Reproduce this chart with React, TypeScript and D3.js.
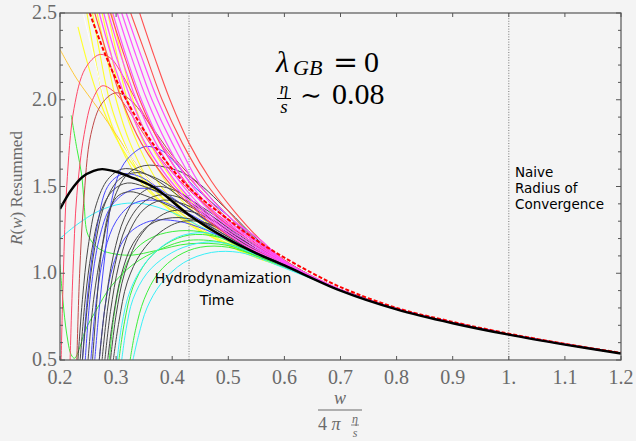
import React from "react";
import * as d3 from "d3";

type Pt = [number, number];

// x tick labels and y tick labels
const xTickValues = [0.2, 0.3, 0.4, 0.5, 0.6, 0.7, 0.8, 0.9, 1.0, 1.1, 1.2];
const xTickLabels = ["0.2", "0.3", "0.4", "0.5", "0.6", "0.7", "0.8", "0.9", "1.", "1.1", "1.2"];
const yMajorValues = [0.5, 1.0, 1.5, 2.0, 2.5];
const yMajorLabels = ["0.5", "1.0", "1.5", "2.0", "2.5"];
const yMinorValues = [0.6, 0.7, 0.8, 0.9, 1.1, 1.2, 1.3, 1.4, 1.6, 1.7, 1.8, 1.9, 2.1, 2.2, 2.3, 2.4];
const markerLines = [0.43, 1.0];

// shared large-w tail
const tail: Pt[] = [[0.7, 0.905], [0.8, 0.795], [0.9, 0.715], [1.0, 0.648], [1.1, 0.59], [1.2, 0.539]];

const yellowCurves: Pt[][] = [
  [[0.232, 2.42], [0.25, 2.2], [0.27, 2.0], [0.3, 1.78], [0.34, 1.58], [0.38, 1.44], [0.43, 1.29], [0.5, 1.16], [0.55, 1.09], [0.6, 1.035]],
  [[0.248, 2.5], [0.262, 2.25], [0.278, 2.0], [0.305, 1.75], [0.345, 1.52], [0.39, 1.38], [0.44, 1.26], [0.5, 1.165], [0.55, 1.095], [0.6, 1.035]],
  [[0.258, 2.5], [0.272, 2.25], [0.288, 2.0], [0.315, 1.75], [0.355, 1.5], [0.4, 1.36], [0.45, 1.25], [0.5, 1.16], [0.55, 1.09], [0.6, 1.035]],
  [[0.266, 2.5], [0.283, 2.25], [0.3, 2.0], [0.325, 1.75], [0.365, 1.5], [0.41, 1.36], [0.46, 1.24], [0.5, 1.17], [0.55, 1.1], [0.6, 1.04]],
  [[0.275, 2.5], [0.292, 2.25], [0.31, 2.0], [0.338, 1.75], [0.38, 1.5], [0.43, 1.34], [0.48, 1.22], [0.55, 1.1], [0.6, 1.04]],
  [[0.285, 2.5], [0.302, 2.25], [0.32, 2.0], [0.35, 1.75], [0.395, 1.5], [0.44, 1.35], [0.49, 1.23], [0.55, 1.11], [0.6, 1.04]],
  [[0.292, 2.5], [0.31, 2.25], [0.33, 2.0], [0.36, 1.75], [0.405, 1.52], [0.45, 1.36], [0.5, 1.24], [0.55, 1.12], [0.6, 1.045]],
];
const goldCurves: Pt[][] = [
  [[0.2, 2.29], [0.23, 2.12], [0.27, 1.94], [0.3, 1.8], [0.34, 1.61], [0.38, 1.47], [0.43, 1.33], [0.5, 1.19], [0.55, 1.11], [0.6, 1.045]],
];
const whiteCurves: Pt[][] = [
  [[0.241, 2.5], [0.26, 2.25], [0.28, 2.0], [0.3, 1.84], [0.33, 1.65], [0.37, 1.5], [0.43, 1.34], [0.5, 1.2], [0.55, 1.115], [0.6, 1.045]],
];
const greenCurves: Pt[][] = [
  [[0.22, 1.91], [0.23, 1.72], [0.239, 1.56], [0.243, 1.4], [0.25, 1.22], [0.27, 1.14], [0.3, 1.11], [0.33, 1.105], [0.37, 1.13], [0.43, 1.17], [0.5, 1.16], [0.55, 1.1], [0.6, 1.04]],
  [[0.2, 1.05], [0.205, 0.85], [0.212, 0.65], [0.22, 0.53], [0.226, 0.51], [0.235, 0.57], [0.245, 0.67], [0.265, 0.79], [0.29, 0.92], [0.33, 1.05], [0.38, 1.14], [0.43, 1.19], [0.5, 1.17], [0.55, 1.1], [0.6, 1.04]],
  [[0.305, 0.5], [0.315, 0.72], [0.33, 0.92], [0.355, 1.07], [0.39, 1.17], [0.43, 1.22], [0.48, 1.21], [0.54, 1.12], [0.6, 1.04]],
  [[0.325, 0.5], [0.335, 0.68], [0.35, 0.85], [0.375, 1.0], [0.41, 1.1], [0.45, 1.15], [0.5, 1.15], [0.55, 1.1], [0.6, 1.035]],
  [[0.288, 0.5], [0.296, 0.75], [0.31, 0.98], [0.33, 1.12], [0.36, 1.2], [0.4, 1.24], [0.45, 1.24], [0.5, 1.19], [0.55, 1.11], [0.6, 1.04]],
];
const cyanCurves: Pt[][] = [
  [[0.2, 1.2], [0.23, 1.28], [0.27, 1.36], [0.31, 1.4], [0.35, 1.4], [0.4, 1.35], [0.45, 1.27], [0.5, 1.19], [0.55, 1.11], [0.6, 1.045]],
  [[0.302, 0.5], [0.31, 0.7], [0.325, 0.9], [0.35, 1.05], [0.38, 1.15], [0.42, 1.22], [0.47, 1.23], [0.52, 1.17], [0.56, 1.1], [0.6, 1.045]],
  [[0.31, 0.5], [0.318, 0.68], [0.33, 0.85], [0.355, 1.0], [0.39, 1.1], [0.43, 1.16], [0.48, 1.18], [0.54, 1.12], [0.6, 1.04]],
  [[0.33, 0.5], [0.34, 0.64], [0.355, 0.8], [0.38, 0.94], [0.42, 1.06], [0.47, 1.12], [0.52, 1.12], [0.56, 1.08], [0.6, 1.03]],
];
const grayCurves: Pt[][] = [
  [[0.232, 0.5], [0.24, 0.85], [0.25, 1.15], [0.265, 1.4], [0.285, 1.54], [0.31, 1.6], [0.34, 1.59], [0.38, 1.52], [0.43, 1.4], [0.5, 1.25], [0.55, 1.14], [0.6, 1.055]],
  [[0.236, 0.5], [0.245, 0.85], [0.256, 1.12], [0.272, 1.35], [0.295, 1.48], [0.32, 1.52], [0.35, 1.5], [0.4, 1.43], [0.45, 1.33], [0.5, 1.23], [0.55, 1.13], [0.6, 1.05]],
  [[0.24, 0.5], [0.25, 0.85], [0.262, 1.15], [0.28, 1.4], [0.305, 1.54], [0.335, 1.58], [0.37, 1.55], [0.43, 1.43], [0.5, 1.28], [0.55, 1.16], [0.6, 1.06]],
  [[0.25, 0.5], [0.26, 0.85], [0.275, 1.15], [0.295, 1.42], [0.32, 1.57], [0.35, 1.62], [0.39, 1.61], [0.43, 1.56], [0.5, 1.36], [0.55, 1.2], [0.6, 1.075]],
  [[0.258, 0.5], [0.266, 0.85], [0.275, 1.15], [0.29, 1.38], [0.305, 1.45], [0.325, 1.47], [0.35, 1.45], [0.4, 1.38], [0.45, 1.3], [0.5, 1.21], [0.55, 1.12], [0.6, 1.045]],
  [[0.27, 0.5], [0.28, 0.8], [0.295, 1.1], [0.315, 1.32], [0.34, 1.45], [0.37, 1.5], [0.41, 1.47], [0.45, 1.38], [0.5, 1.26], [0.55, 1.14], [0.6, 1.05]],
  [[0.275, 0.5], [0.285, 0.8], [0.298, 1.05], [0.318, 1.27], [0.345, 1.4], [0.375, 1.45], [0.41, 1.44], [0.46, 1.35], [0.52, 1.22], [0.56, 1.13], [0.6, 1.055]],
  [[0.28, 0.5], [0.29, 0.78], [0.305, 1.05], [0.325, 1.25], [0.35, 1.37], [0.38, 1.42], [0.42, 1.4], [0.47, 1.31], [0.52, 1.2], [0.56, 1.12], [0.6, 1.05]],
  [[0.285, 0.5], [0.295, 0.75], [0.31, 1.0], [0.33, 1.17], [0.36, 1.28], [0.4, 1.32], [0.45, 1.3], [0.5, 1.23], [0.55, 1.12], [0.6, 1.045]],
  [[0.29, 0.5], [0.3, 0.76], [0.315, 1.0], [0.34, 1.2], [0.37, 1.31], [0.4, 1.36], [0.44, 1.35], [0.5, 1.25], [0.55, 1.13], [0.6, 1.05]],
  [[0.295, 0.5], [0.305, 0.72], [0.32, 0.95], [0.345, 1.12], [0.38, 1.24], [0.42, 1.3], [0.47, 1.28], [0.53, 1.17], [0.6, 1.045]],
];
const blueCurves: Pt[][] = [
  [[0.262, 0.5], [0.27, 0.8], [0.28, 1.1], [0.292, 1.42], [0.31, 1.61], [0.33, 1.69], [0.352, 1.73], [0.38, 1.71], [0.41, 1.62], [0.43, 1.53], [0.47, 1.41], [0.5, 1.33], [0.55, 1.19], [0.6, 1.07]],
  [[0.245, 0.5], [0.255, 0.9], [0.27, 1.2], [0.29, 1.38], [0.32, 1.47], [0.35, 1.49], [0.38, 1.46], [0.43, 1.37], [0.5, 1.22], [0.55, 1.12], [0.6, 1.045]],
  [[0.255, 0.5], [0.265, 0.85], [0.28, 1.13], [0.3, 1.3], [0.33, 1.4], [0.37, 1.42], [0.42, 1.36], [0.5, 1.21], [0.55, 1.12], [0.6, 1.045]],
  [[0.27, 0.5], [0.28, 0.8], [0.295, 1.05], [0.32, 1.22], [0.36, 1.3], [0.41, 1.3], [0.46, 1.25], [0.52, 1.16], [0.6, 1.04]],
  [[0.24, 0.5], [0.25, 0.9], [0.265, 1.25], [0.285, 1.5], [0.31, 1.57], [0.34, 1.56], [0.38, 1.48], [0.43, 1.37], [0.5, 1.22], [0.55, 1.12], [0.6, 1.045]],
];
const pinkArcCurves: Pt[][] = [
  [[0.202, 0.5], [0.206, 1.0], [0.212, 1.5], [0.225, 1.95], [0.245, 2.18], [0.27, 2.26], [0.29, 2.24], [0.31, 2.15], [0.34, 1.97], [0.38, 1.75], [0.43, 1.55], [0.5, 1.31], [0.55, 1.17], [0.6, 1.065]],
  [[0.218, 0.5], [0.223, 1.0], [0.23, 1.45], [0.243, 1.8], [0.258, 2.0], [0.275, 2.08], [0.295, 2.05], [0.32, 1.95], [0.36, 1.75], [0.4, 1.58], [0.45, 1.42], [0.5, 1.29], [0.55, 1.16], [0.6, 1.06]],
];
const brownArcCurves: Pt[][] = [
  [[0.23, 0.5], [0.235, 1.0], [0.242, 1.4], [0.255, 1.8], [0.275, 1.98], [0.3, 2.04], [0.325, 2.0], [0.36, 1.86], [0.4, 1.68], [0.45, 1.5], [0.5, 1.33], [0.55, 1.18], [0.6, 1.065]],
];
const salmonCurves: Pt[][] = [
  [[0.262, 2.5], [0.285, 2.25], [0.31, 2.0], [0.345, 1.75], [0.4, 1.5], [0.465, 1.3], [0.53, 1.16], [0.6, 1.06]],
  [[0.29, 2.5], [0.315, 2.25], [0.342, 2.0], [0.378, 1.75], [0.43, 1.5], [0.49, 1.3], [0.55, 1.165], [0.6, 1.065]],
  [[0.326, 2.5], [0.354, 2.25], [0.382, 2.0], [0.418, 1.75], [0.46, 1.52], [0.505, 1.34], [0.55, 1.19], [0.6, 1.07]],
  [[0.342, 2.5], [0.368, 2.25], [0.396, 2.0], [0.43, 1.75], [0.47, 1.53], [0.51, 1.36], [0.555, 1.2], [0.6, 1.075]],
];
const magentaCurves: Pt[][] = [
  [[0.27, 2.5], [0.292, 2.25], [0.318, 2.0], [0.352, 1.75], [0.405, 1.5], [0.47, 1.3], [0.53, 1.16], [0.6, 1.055]],
  [[0.278, 2.5], [0.3, 2.25], [0.327, 2.0], [0.362, 1.75], [0.413, 1.5], [0.475, 1.3], [0.535, 1.165], [0.6, 1.06]],
  [[0.286, 2.5], [0.309, 2.25], [0.336, 2.0], [0.371, 1.75], [0.42, 1.5], [0.48, 1.3], [0.54, 1.17], [0.6, 1.06]],
  [[0.294, 2.5], [0.318, 2.25], [0.345, 2.0], [0.38, 1.75], [0.428, 1.5], [0.487, 1.3], [0.545, 1.175], [0.6, 1.065]],
  [[0.302, 2.5], [0.327, 2.25], [0.355, 2.0], [0.39, 1.75], [0.436, 1.5], [0.493, 1.3], [0.55, 1.18], [0.6, 1.065]],
  [[0.31, 2.5], [0.336, 2.25], [0.364, 2.0], [0.4, 1.75], [0.444, 1.5], [0.5, 1.3], [0.555, 1.18], [0.6, 1.07]],
  [[0.318, 2.5], [0.345, 2.25], [0.374, 2.0], [0.41, 1.75], [0.452, 1.5], [0.507, 1.31], [0.56, 1.185], [0.6, 1.07]],
];
const redDashed: Pt[] = [
  [0.253, 2.5], [0.282, 2.25], [0.318, 2.0], [0.365, 1.75], [0.428, 1.5], [0.5, 1.31], [0.55, 1.19], [0.6, 1.09],
  [0.65, 1.0], [0.7, 0.92], [0.8, 0.8], [0.9, 0.72], [1.0, 0.652], [1.1, 0.593], [1.2, 0.541],
];
const blackCurve: Pt[] = [
  [0.2, 1.37], [0.22, 1.48], [0.24, 1.555], [0.26, 1.59], [0.275, 1.6], [0.3, 1.585], [0.325, 1.556], [0.37, 1.49],
  [0.43, 1.336], [0.5, 1.195], [0.55, 1.115], [0.6, 1.045], [0.7, 0.9], [0.8, 0.792], [0.9, 0.712], [1.0, 0.646],
  [1.1, 0.589], [1.2, 0.537],
];

const families: { curves: Pt[][]; color: string; width: number }[] = [
  { curves: yellowCurves, color: "#ffff28", width: 1.1 },
  { curves: goldCurves, color: "#ffc838", width: 1 },
  { curves: whiteCurves, color: "#ffffff", width: 1 },
  { curves: greenCurves, color: "#3cf03c", width: 1 },
  { curves: cyanCurves, color: "#38f0f8", width: 1 },
  { curves: blueCurves, color: "#4848ff", width: 1 },
  { curves: grayCurves, color: "#484848", width: 1 },
  { curves: brownArcCurves, color: "#c04848", width: 1 },
  { curves: pinkArcCurves, color: "#ff4868", width: 1 },
  { curves: salmonCurves, color: "#ff5050", width: 1.1 },
  { curves: magentaCurves, color: "#ff50ff", width: 1.2 },
];

const W = 636;
const H = 441;
const L = 60, R = 621, T = 13, B = 360;

function withTail(pts: Pt[]): Pt[] {
  const last = pts[pts.length - 1][0];
  return pts.concat(tail.filter((p) => p[0] > last + 0.02));
}

export default function App() {
  const x = d3.scaleLinear().domain([0.2, 1.2]).range([L, R]);
  const y = d3.scaleLinear().domain([0.5, 2.5]).range([B, T]);
  const line = d3
    .line<Pt>()
    .x((d) => x(d[0]))
    .y((d) => y(d[1]))
    .curve(d3.curveCatmullRom.alpha(0.5));

  const tickColor = "#555";
  const labelColor = "#6a6a6a";
  const serif = "Liberation Serif";
  const mathSym = "DejaVu Serif";
  const sans = "DejaVu Sans";

  return (
    <svg width={W} height={H} style={{ position: "absolute", left: 0, top: 0, background: "#f4f4f4" }}>
      <rect x={0} y={0} width={W} height={H} fill="#f4f4f4" />
      <defs>
        <clipPath id="plotclip">
          <rect x={L} y={T} width={R - L} height={B - T} />
        </clipPath>
      </defs>

      {markerLines.map((v, i) => (
        <line key={"m" + i} x1={x(v)} x2={x(v)} y1={T} y2={B} stroke="#777" strokeWidth={1} strokeDasharray="1,1.6" />
      ))}

      <g clipPath="url(#plotclip)" fill="none">
        {families.map((f, fi) =>
          f.curves.map((c, ci) => (
            <path key={fi + "-" + ci} d={line(withTail(c)) || ""} stroke={f.color} strokeWidth={f.width} />
          ))
        )}
        <path d={line(redDashed) || ""} stroke="#ff0000" strokeWidth={2} strokeDasharray="4,2" />
        <path d={line(blackCurve) || ""} stroke="#000" strokeWidth={2.4} />
      </g>

      <rect x={L} y={T} width={R - L} height={B - T} fill="none" stroke={tickColor} strokeWidth={1.2} />

      {xTickValues.map((v, i) => (
        <g key={"xt" + i}>
          <line x1={x(v)} x2={x(v)} y1={B} y2={B - 4} stroke={tickColor} strokeWidth={1} />
          <line x1={x(v)} x2={x(v)} y1={T} y2={T + 4} stroke={tickColor} strokeWidth={1} />
          <text x={x(v)} y={384} textAnchor="middle" fontFamily={serif} fontSize={20} fill={labelColor}>
            {xTickLabels[i]}
          </text>
        </g>
      ))}
      {yMajorValues.map((v, i) => (
        <g key={"ym" + i}>
          <line x1={L} x2={L + 5} y1={y(v)} y2={y(v)} stroke={tickColor} strokeWidth={1} />
          <line x1={R} x2={R - 5} y1={y(v)} y2={y(v)} stroke={tickColor} strokeWidth={1} />
          <text x={57} y={y(v) + 6} textAnchor="end" fontFamily={serif} fontSize={20} fill={labelColor}>
            {yMajorLabels[i]}
          </text>
        </g>
      ))}
      {yMinorValues.map((v, i) => (
        <g key={"yn" + i}>
          <line x1={L} x2={L + 3} y1={y(v)} y2={y(v)} stroke={tickColor} strokeWidth={1} />
          <line x1={R} x2={R - 3} y1={y(v)} y2={y(v)} stroke={tickColor} strokeWidth={1} />
        </g>
      ))}

      <text transform="translate(22,188) rotate(-90)" textAnchor="middle" fontFamily={serif} fontSize={17} fill={labelColor}>
        <tspan fontStyle="italic">R</tspan>(<tspan fontStyle="italic">w</tspan>) Resummed
      </text>

      <text x={340} y={404} textAnchor="middle" fontFamily={serif} fontSize={18} fontStyle="italic" fill={labelColor}>
        w
      </text>
      <line x1={318} x2={362} y1={410} y2={410} stroke={labelColor} strokeWidth={1} />
      <text x={318} y={430} fontFamily={serif} fontSize={18} fill={labelColor}>
        4 <tspan fontStyle="italic">π</tspan>
      </text>
      <text x={355} y={423} textAnchor="middle" fontFamily={serif} fontSize={12} fontStyle="italic" fill={labelColor}>
        η
      </text>
      <line x1={351} x2={359} y1={425} y2={425} stroke={labelColor} strokeWidth={0.8} />
      <text x={355} y={437} textAnchor="middle" fontFamily={serif} fontSize={12} fontStyle="italic" fill={labelColor}>
        s
      </text>

      {/* lambda annotation */}
      <text x={276} y={72} fontFamily={serif} fontSize={30} fontStyle="italic" fill="#000">λ</text>
      <text x={293} y={75} fontFamily={serif} fontSize={22} fontStyle="italic" fill="#000">GB</text>
      <text x={333} y={72} fontFamily={mathSym} fontSize={30} fill="#000">=</text>
      <text x={364} y={72} fontFamily={serif} fontSize={30} fill="#000">0</text>

      <text x={284} y={94} textAnchor="middle" fontFamily={serif} fontSize={17} fontStyle="italic" fill="#000">η</text>
      <line x1={277} x2={291} y1={98.5} y2={98.5} stroke="#000" strokeWidth={1} />
      <text x={284} y={113} textAnchor="middle" fontFamily={serif} fontSize={19} fontStyle="italic" fill="#000">s</text>
      <text x={300} y={104} fontFamily={mathSym} fontSize={26} fill="#000">∼</text>
      <text x={332} y={104} fontFamily={serif} fontSize={30} fill="#000">0.08</text>

      <text x={223} y={283} textAnchor="middle" fontFamily={sans} fontSize={14} fill="#000">Hydrodynamization</text>
      <text x={217} y={305} textAnchor="middle" fontFamily={sans} fontSize={14} fill="#000">Time</text>

      <text fontFamily={sans} fontSize={13.5} fill="#000">
        <tspan x={515} y={177}>Naive</tspan>
        <tspan x={515} y={193}>Radius of</tspan>
        <tspan x={515} y={209}>Convergence</tspan>
      </text>
    </svg>
  );
}
